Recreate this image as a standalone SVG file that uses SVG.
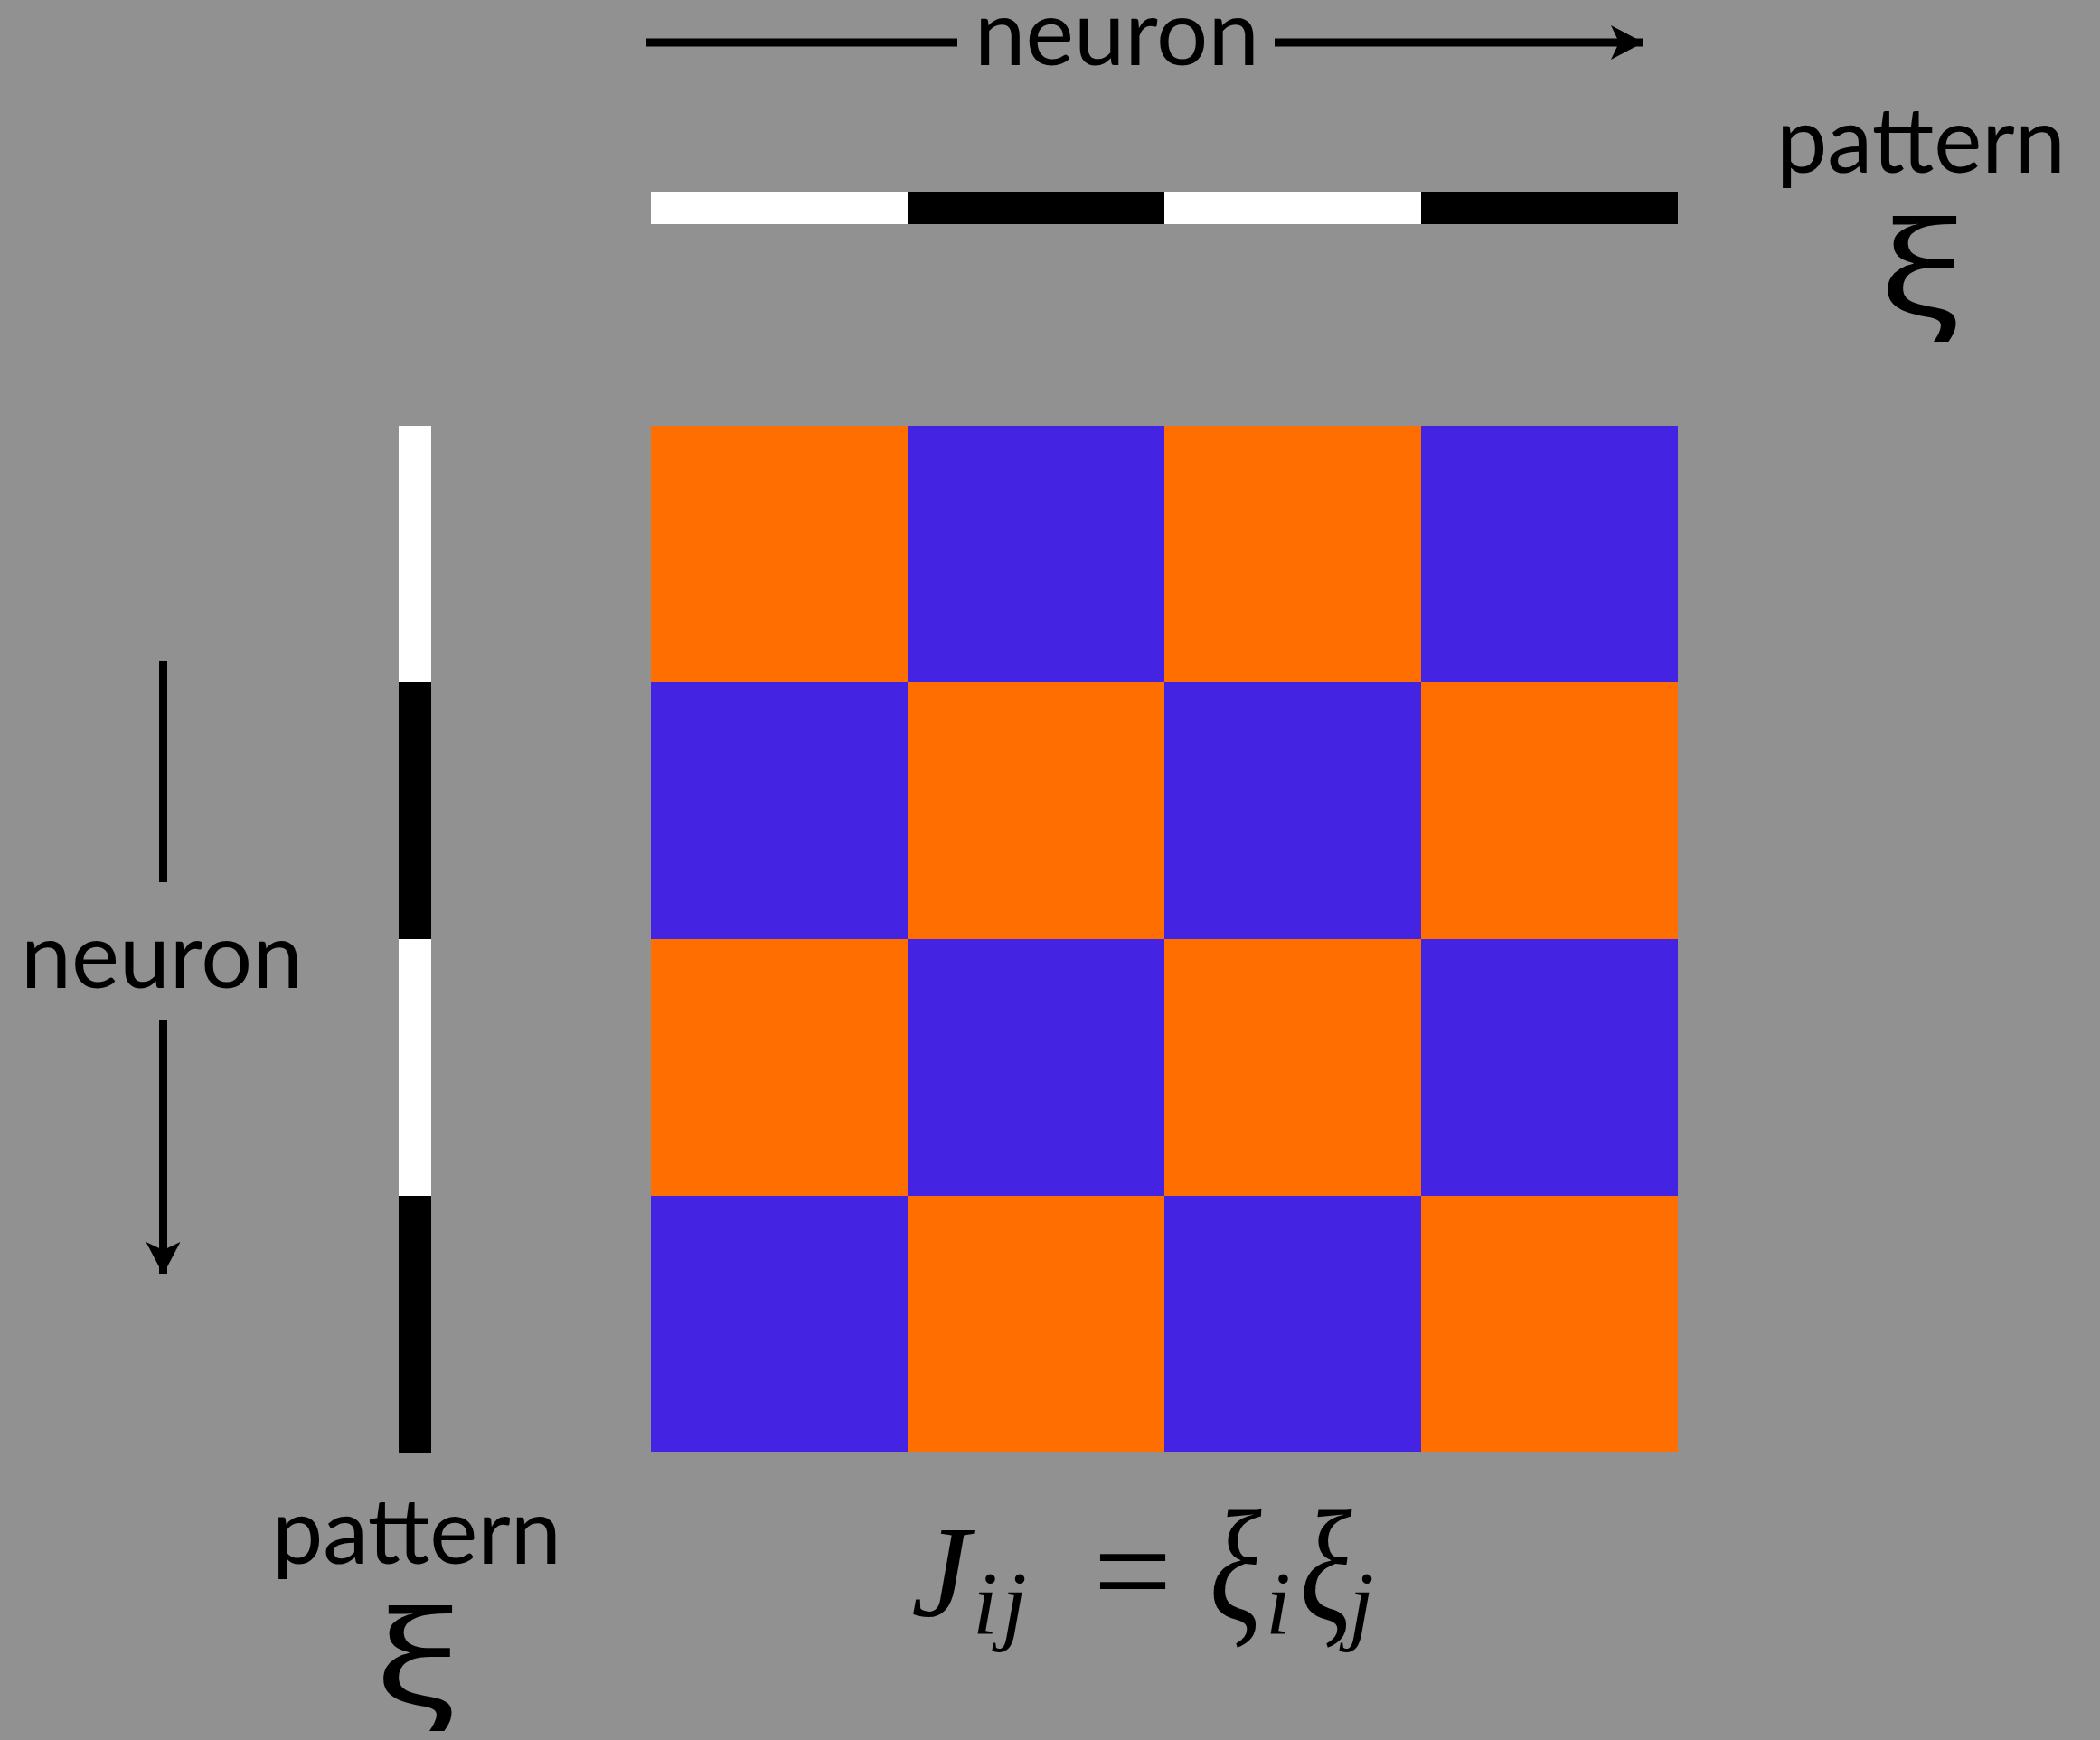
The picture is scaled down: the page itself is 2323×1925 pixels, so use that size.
<svg xmlns="http://www.w3.org/2000/svg" width="2323" height="1925" viewBox="0 0 2323 1925">
<style>
.o{fill:#FF6E00}
.b{fill:#4424E2}
.w{fill:#FFFFFF}
.k{fill:#000000}
.lbl{font-family:Lato,"Open Sans",sans-serif;font-size:100px;fill:#000}
.xi{font-family:"Noto Sans","DejaVu Sans",sans-serif;font-size:140px;fill:#000}
.m{font-family:"Liberation Serif","DejaVu Serif",serif;font-style:italic;fill:#000}
.ln{stroke:#000;stroke-width:9;fill:none}
</style>
<defs>
<marker id="ah" viewBox="0 0 36 38" refX="35" refY="19" markerWidth="36" markerHeight="38" orient="auto" markerUnits="userSpaceOnUse">
<path d="M0,0 L36,19 L0,38 L9,19 Z" fill="#000"/>
</marker>
</defs>
<rect x="0" y="0" width="2323" height="1925" fill="#919191"/>

<g id="connectors">
<line class="ln" x1="715" y1="47" x2="1059" y2="47"/>
<line class="ln" x1="1410" y1="47" x2="1817" y2="47" marker-end="url(#ah)"/>
<line class="ln" x1="180.5" y1="731" x2="180.5" y2="976"/>
<line class="ln" x1="180.5" y1="1129" x2="180.5" y2="1409" marker-end="url(#ah)"/>
</g>

<g id="label-neuron-top"><text class="lbl" x="1078" y="72" textLength="315" lengthAdjust="spacingAndGlyphs">neuron</text></g>
<g id="label-neuron-left"><text class="lbl" x="23" y="1093" textLength="312" lengthAdjust="spacingAndGlyphs">neuron</text></g>

<g id="pattern-top">
<rect class="w" x="720" y="212" width="284" height="36"/>
<rect class="k" x="1004" y="212" width="284" height="36"/>
<rect class="w" x="1288" y="212" width="284" height="36"/>
<rect class="k" x="1572" y="212" width="284" height="36"/>
</g>
<g id="label-pattern-top">
<text class="lbl" x="1965" y="191" textLength="320" lengthAdjust="spacingAndGlyphs">pattern</text>
<text class="xi" transform="translate(2124,349) scale(1.35,1.03)" text-anchor="middle">ξ</text>
</g>

<g id="pattern-left">
<rect class="w" x="441" y="471" width="36" height="284"/>
<rect class="k" x="441" y="755" width="36" height="284"/>
<rect class="w" x="441" y="1039" width="36" height="284"/>
<rect class="k" x="441" y="1323" width="36" height="284"/>
</g>
<g id="label-pattern-left">
<text class="lbl" x="301" y="1730" textLength="320" lengthAdjust="spacingAndGlyphs">pattern</text>
<text class="xi" transform="translate(460,1886) scale(1.35,1.03)" text-anchor="middle">ξ</text>
</g>

<g id="matrix">
<rect class="o" x="720" y="471" width="284" height="284"/>
<rect class="b" x="1004" y="471" width="284" height="284"/>
<rect class="o" x="1288" y="471" width="284" height="284"/>
<rect class="b" x="1572" y="471" width="284" height="284"/>
<rect class="b" x="720" y="755" width="284" height="284"/>
<rect class="o" x="1004" y="755" width="284" height="284"/>
<rect class="b" x="1288" y="755" width="284" height="284"/>
<rect class="o" x="1572" y="755" width="284" height="284"/>
<rect class="o" x="720" y="1039" width="284" height="284"/>
<rect class="b" x="1004" y="1039" width="284" height="284"/>
<rect class="o" x="1288" y="1039" width="284" height="284"/>
<rect class="b" x="1572" y="1039" width="284" height="284"/>
<rect class="b" x="720" y="1323" width="284" height="283"/>
<rect class="o" x="1004" y="1323" width="284" height="283"/>
<rect class="b" x="1288" y="1323" width="284" height="283"/>
<rect class="o" x="1572" y="1323" width="284" height="283"/>
</g>

<g id="formula">
<text class="m" x="1008" y="1788" font-size="145">J</text>
<text class="m" x="1076" y="1807" font-size="100">i</text>
<text class="m" x="1108" y="1807" font-size="100">j</text>
<text x="1253" y="1790" font-size="155" text-anchor="middle" font-family="Liberation Serif, DejaVu Serif, serif" fill="#000">=</text>
<text class="m" font-size="134" transform="translate(1338,1792) scale(1,1.31)">ξ</text>
<text class="m" x="1400" y="1807" font-size="100">i</text>
<text class="m" font-size="134" transform="translate(1438,1792) scale(1,1.31)">ξ</text>
<text class="m" x="1492" y="1807" font-size="100">j</text>
</g>
</svg>
